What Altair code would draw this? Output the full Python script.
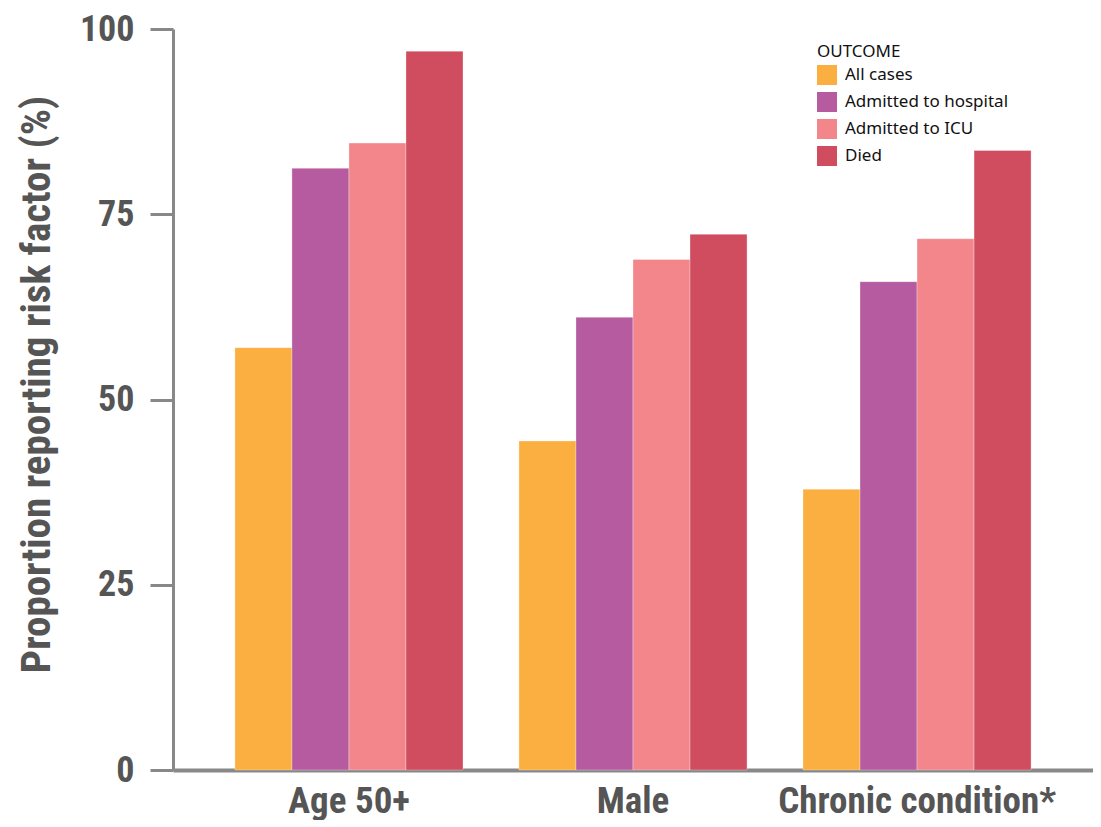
import altair as alt
import pandas as pd

categories = ["Age 50+", "Male", "Chronic condition*"]
outcomes = ["All cases", "Admitted to hospital", "Admitted to ICU", "Died"]
all_cases = [57, 44.4, 37.9]
hospital = [81.2, 61.1, 65.9]
icu = [84.6, 68.9, 71.7]
died = [97.0, 72.3, 83.6]
colors = ["#FBAF41", "#B75BA0", "#F3868B", "#D04D60"]

rows = []
for series, name in zip([all_cases, hospital, icu, died], outcomes):
    for cat, v in zip(categories, series):
        rows.append({"category": cat, "outcome": name, "value": v})
df = pd.DataFrame(rows)

cond_font = "Liberation Sans Narrow, Roboto Condensed, DejaVu Sans Condensed, sans-serif"

chart = alt.Chart(df).mark_bar(stroke="white", strokeWidth=0.6, strokeOpacity=0.5).encode(
    x=alt.X("category:N", sort=categories,
            scale=alt.Scale(paddingInner=0.197, paddingOuter=0.218),
            axis=alt.Axis(title=None, labelAngle=0, ticks=False, labelPadding=13, labelLimit=0,
                          labelFontSize=37, labelFont=cond_font, labelFontWeight="bold",
                          labelColor="#555555", domainColor="#888888", domainWidth=4)),
    xOffset=alt.XOffset("outcome:N", sort=outcomes),
    y=alt.Y("value:Q", scale=alt.Scale(domain=[0, 100], nice=False),
            axis=alt.Axis(title="Proportion reporting risk factor (%)", values=[0, 25, 50, 75, 100],
                          grid=False, tickSize=23, tickWidth=3, tickColor="#888888",
                          domainColor="#888888", domainWidth=3,
                          labelFontSize=36, labelFont=cond_font, labelFontWeight="bold",
                          labelColor="#555555", labelPadding=16,
                          titleFontSize=41, titleFont=cond_font, titleFontWeight="bold",
                          titleColor="#555555", titleX=-136, titleY=355, titleAngle=-90,
                          titleAlign="center", titleBaseline="middle", titleLimit=0)),
    color=alt.Color("outcome:N", sort=outcomes,
                    scale=alt.Scale(domain=outcomes, range=colors),
                    legend=alt.Legend(title="OUTCOME", orient="none", legendX=644, legendY=15,
                                      symbolType="square", symbolSize=400, symbolStrokeWidth=0,
                                      labelFontSize=17, titleFontSize=17, labelFont="Noto Sans",
                                      titleFont="Noto Sans", titleFontWeight="normal",
                                      titleColor="#111111", labelColor="#111111", labelLimit=0,
                                      rowPadding=7, titlePadding=4, labelOffset=8)),
).properties(
    width=920, height=741,
    autosize=alt.AutoSizeParams(type="none"),
    padding={"left": 165, "top": 21, "right": 0, "bottom": 50},
).configure_view(stroke=None)

chart.save("out.html", embed_options={"renderer": "svg", "actions": False})
